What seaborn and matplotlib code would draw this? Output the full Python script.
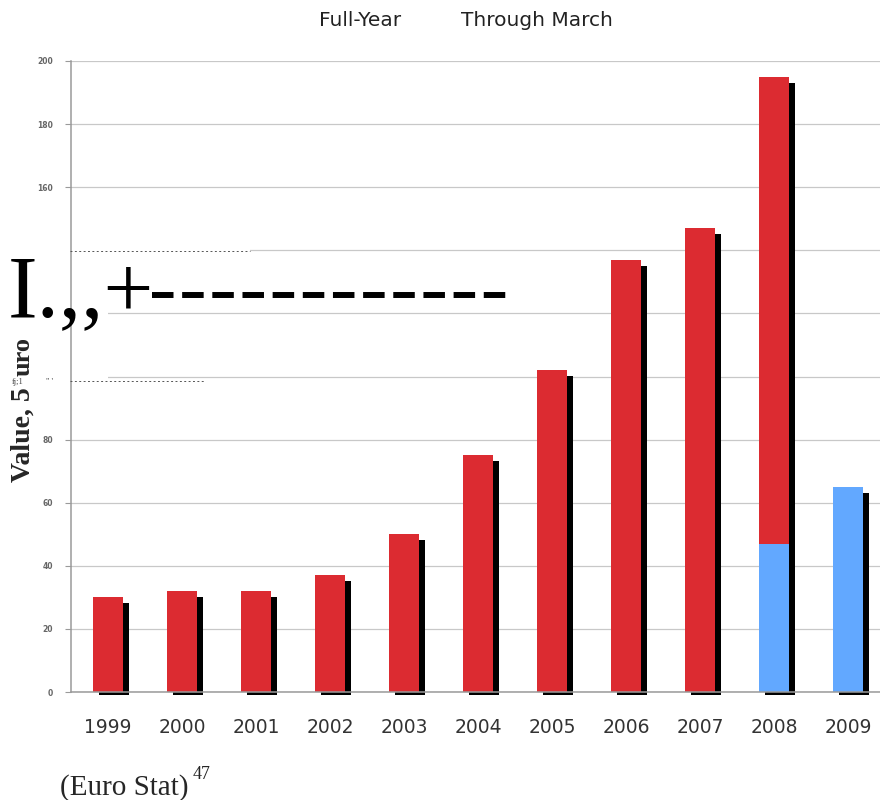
import matplotlib
matplotlib.use("Agg")
import matplotlib.pyplot as plt
import seaborn as sns
from matplotlib.transforms import ScaledTranslation
from matplotlib.patches import Rectangle
from matplotlib.lines import Line2D

# --- DATA ---
years = ["1999", "2000", "2001", "2002", "2003", "2004",
         "2005", "2006", "2007", "2008", "2009"]
full_year_years = years[:10]
full_year = [30, 32, 32, 37, 50, 75, 102, 137, 147, 195]
march_years = ["2008", "2009"]
through_march = [47, 65]
y_ticks = [0, 20, 40, 60, 80, 100, 120, 140, 160, 180, 200]
# 100-140 labels are hidden under the scan overlay in the source
y_tick_labels = ["0", "20", "40", "60", "80", "", "", "", "160", "180", "200"]

RED = "#DC2B31"
BLUE = "#62A8FF"
W, H = 880, 800


def fx(px):
    return px / W


def fy(py):
    return 1 - py / H


sns.set_style("whitegrid")
fig = plt.figure(figsize=(8.8, 8), dpi=100)
ax = fig.add_axes([fx(71), fy(692), 814 / W, 631 / H])

# drop shadow: tallest bar of each year, shifted right/down
tallest = dict(zip(full_year_years, full_year))
for yr, v in zip(march_years, through_march):
    tallest[yr] = max(tallest.get(yr, 0), v)
shadow = [tallest[yr] for yr in years]

sns.barplot(x=years, y=shadow, order=years, color="black", width=0.405,
            saturation=1, errorbar=None, linewidth=0, edgecolor="none", ax=ax)
offset = ScaledTranslation(0.06, -0.06, fig.dpi_scale_trans)
clip = Rectangle((0, fy(695)), 1, fy(40) - fy(695), transform=fig.transFigure)
for p in ax.patches:
    p.set_transform(ax.transData + offset)
    p.set_clip_path(clip)

sns.barplot(x=full_year_years, y=full_year, order=years, color=RED, width=0.405,
            saturation=1, errorbar=None, linewidth=0, edgecolor="none", ax=ax)
sns.barplot(x=march_years, y=through_march, order=years, color=BLUE, width=0.405,
            saturation=1, errorbar=None, linewidth=0, edgecolor="none", ax=ax)

ax.set_xlim(-0.5, 10.5)
ax.set_ylim(0, 200)
ax.set_xlabel("")
ax.set_ylabel("")
ax.grid(axis="y", color="#c8c8c8", lw=0.9)
ax.grid(axis="x", visible=False)
for s in ["top", "right"]:
    ax.spines[s].set_visible(False)
for s in ["left", "bottom"]:
    ax.spines[s].set_color("#9a9a9a")
    ax.spines[s].set_linewidth(1.1)

ax.set_xticks(range(len(years)))
ax.set_xticklabels(years, fontsize=13.5, color="#333333")
ax.set_xticks([i - 0.5 for i in range(len(years) + 1)], minor=True)
ax.tick_params(axis="x", which="major", length=0, pad=19)
ax.tick_params(axis="x", which="minor", length=4, color="#9a9a9a", width=1)
ax.set_yticks(y_ticks)
ax.set_yticklabels(y_tick_labels, fontsize=5.5, fontweight="bold", color="#666666")
ax.tick_params(axis="y", length=4, color="#9a9a9a", pad=9, left=True)

# scanned overlay that hides part of the axis
ax.add_patch(Rectangle((0, fy(385)), fx(108), 140 / H, transform=fig.transFigure,
                       facecolor="white", edgecolor="none", clip_on=False, zorder=1))
ax.add_patch(Rectangle((fx(100), fy(255)), fx(150), 9 / H, transform=fig.transFigure,
                       facecolor="white", edgecolor="none", clip_on=False, zorder=1))
fig.add_artist(Line2D([fx(70), fx(250)], [fy(251)] * 2, ls=(0, (2, 2.5)),
                      color="#555555", lw=0.7))
fig.add_artist(Line2D([fx(70), fx(205)], [fy(381)] * 2, ls=(0, (2, 2.5)),
                      color="#555555", lw=0.7))
fig.add_artist(Line2D([fx(152), fx(507)], [fy(295)] * 2, ls=(0, (3.6, 1.45)),
                      color="black", lw=4.3, solid_capstyle="butt",
                      dash_capstyle="butt"))
fig.text(fx(8), fy(316), "I.,,+", fontsize=64, family="Liberation Serif",
         color="black", va="baseline", ha="left")
fig.text(fx(12), fy(384), "fj;1", fontsize=6, family="Liberation Serif",
         va="baseline", ha="left", color="#444444")
fig.text(fx(46), fy(384), "\" '", fontsize=6, family="Liberation Serif",
         va="baseline", ha="left", color="#444444")

# axis title pieces
fig.text(fx(23), fy(482), "Value, 5", fontsize=20, family="Liberation Serif",
         fontweight="bold", rotation=90, ha="center", va="bottom")
fig.text(fx(23), fy(376), "uro", fontsize=19, family="Liberation Serif",
         fontweight="bold", rotation=90, ha="center", va="bottom")

# legend text
fig.text(fx(360), fy(21), "Full-Year", fontsize=14.5, color="#222222",
         ha="center", va="center")
fig.text(fx(537), fy(21), "Through March", fontsize=14.5, color="#222222",
         ha="center", va="center")

# source
fig.text(fx(60), fy(795), "(Euro Stat)", fontsize=21, family="Liberation Serif",
         ha="left", va="baseline")
fig.text(fx(193), fy(779), "47", fontsize=13, family="Liberation Serif",
         ha="left", va="baseline")

fig.savefig("out.png", dpi=100, facecolor="white")
